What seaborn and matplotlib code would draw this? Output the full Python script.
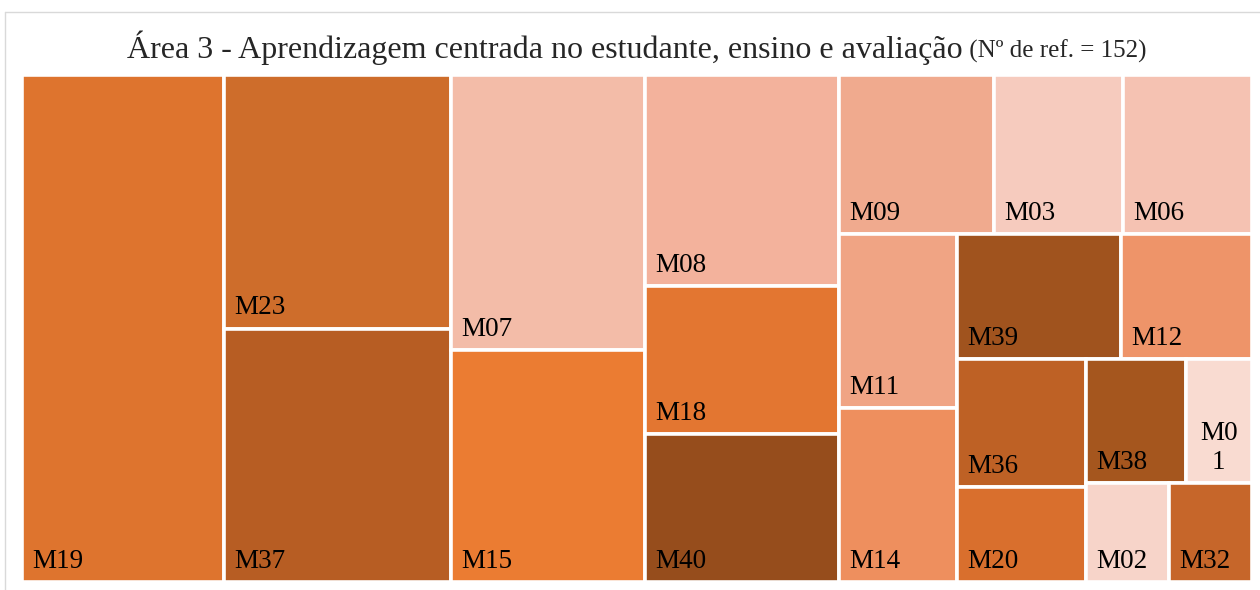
import matplotlib
matplotlib.use("Agg")
import matplotlib.pyplot as plt
from matplotlib.patches import Rectangle
from matplotlib.lines import Line2D
import seaborn as sns

# data (number of references per item)
codes = ["M19", "M23", "M37", "M07", "M15", "M08", "M18", "M40", "M09", "M03", "M06",
         "M11", "M14", "M39", "M12", "M36", "M20", "M38", "M01", "M02", "M32"]
refs = [25, 14, 14, 13, 11, 10, 7, 7, 6, 5, 5, 5, 5, 5, 4, 4, 3, 3, 2, 2, 2]
tile_colors = ["#DE742E", "#CE6D2B", "#B75D23", "#F3BCA8", "#EB7C32", "#F3B29C", "#E37631",
               "#964D1C", "#F0AA8E", "#F6CBBE", "#F5C2B2", "#F0A484", "#EE8F5E", "#A0531E",
               "#EE9469", "#BE6125", "#D96F2D", "#A5561E", "#F9DBD1", "#F7D4C9", "#C6662A"]
# how many items go in each strip of the layout
strips = [1, 2, 2, 3, 3, 2, 2, 2, 2, 1, 1]

title_main = "Área 3 - Aprendizagem centrada no estudante, ensino e avaliação"
title_small = " (Nº de ref. = 152)"

sns.set_style("white")
plt.rcParams["font.family"] = ["Liberation Serif", "DejaVu Serif"]

fig = plt.figure(figsize=(12.6, 5.9), dpi=100)
W, H = 1230, 507
ax = fig.add_axes([22 / 1260, 8 / 590, W / 1260, H / 590])
ax.set_xlim(0, W)
ax.set_ylim(H, 0)
ax.axis("off")


def strip_layout(vals, groups, x, y, w, h):
    """slice the box into strips along its shorter side"""
    rects = []
    i = 0
    for n in groups:
        part = vals[i:i + n]
        rest = sum(vals[i:])
        s = sum(part)
        if w >= h:
            cw = w * s / rest
            yy = y
            for v in part:
                rh = h * v / s
                rects.append((x, yy, cw, rh))
                yy += rh
            x += cw
            w -= cw
        else:
            rh = h * s / rest
            xx = x
            for v in part:
                cw = w * v / s
                rects.append((xx, y, cw, rh))
                xx += cw
            y += rh
            h -= rh
        i += n
    return rects


rects = strip_layout(refs, strips, 0, 0, W, H)

fig.canvas.draw()
renderer = fig.canvas.get_renderer()
pad = 10
for (x, y, w, h), code, col in zip(rects, codes, tile_colors):
    ax.add_patch(Rectangle((x, y), w, h, facecolor=col, edgecolor="white", linewidth=2.6))
    t = ax.text(x + pad, y + h - 8, code, fontsize=19.5, ha="left", va="bottom", color="black")
    tw = t.get_window_extent(renderer).width
    if tw > w - 2 * pad - 2:
        # too narrow: break the label and centre it
        lines, cur = [], ""
        for ch in code:
            t.set_text(cur + ch)
            if cur and t.get_window_extent(renderer).width > w - 2 * pad - 2:
                lines.append(cur)
                cur = ch
            else:
                cur += ch
        lines.append(cur)
        t.set_text("\n".join(lines))
        t.set_x(x + w / 2)
        t.set_ha("center")
        t.set_multialignment("center")

# title in two sizes on one line
t1 = fig.text(0, 1 - 58 / 590, title_main, fontsize=23, va="baseline", ha="left")
t2 = fig.text(0, 1 - 58 / 590, title_small, fontsize=18, va="baseline", ha="left")
fig.canvas.draw()
w1 = t1.get_window_extent(renderer).width
w2 = t2.get_window_extent(renderer).width
x0 = 637 - (w1 + w2) / 2
t1.set_x(x0 / 1260)
t2.set_x((x0 + w1) / 1260)

# chart frame
fig.add_artist(Line2D([5 / 1260, 1], [1 - 12 / 590] * 2, color="#D9D9D9", lw=1))
fig.add_artist(Line2D([5 / 1260] * 2, [0, 1 - 12 / 590], color="#D9D9D9", lw=1))

fig.savefig("out.png", dpi=100)
